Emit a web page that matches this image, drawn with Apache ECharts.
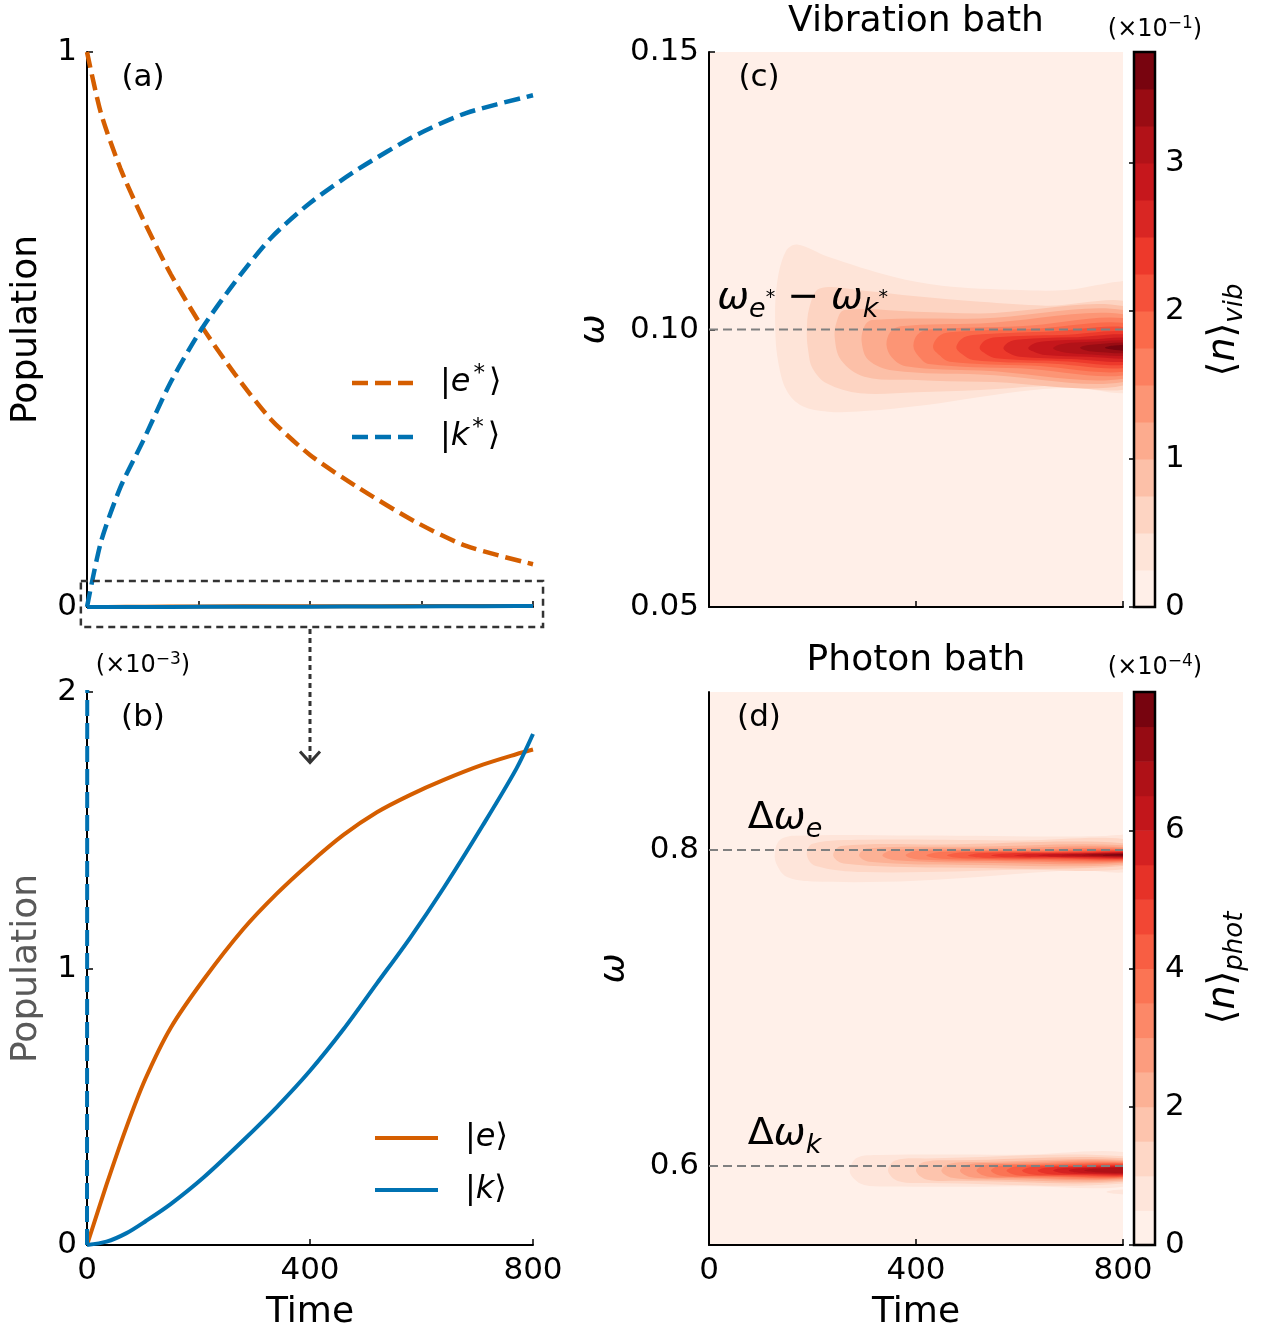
<!DOCTYPE html>
<html><head><meta charset="utf-8">
<script src="https://cdn.jsdelivr.net/npm/echarts@6/dist/echarts.min.js"></script>
<style>html,body{margin:0;padding:0;background:#fff}#c{width:1262px;height:1333px}</style>
</head><body><div id="c"></div>
<script>
// ---------------- data ----------------
const timeStar = [0, 25, 60, 100, 150, 205, 265, 330, 400, 485, 590, 680, 800];
const eStar    = [1.0, 0.89, 0.79, 0.70, 0.60, 0.507, 0.42, 0.338, 0.274, 0.216, 0.153, 0.11, 0.077];
const kStar    = [0.0, 0.117, 0.216, 0.298, 0.405, 0.50, 0.585, 0.665, 0.728, 0.788, 0.85, 0.89, 0.922];

const timeSmall = [0, 35, 70, 105, 150, 210, 280, 340, 400, 460, 520, 580, 640, 710, 770, 800];
const eSmall    = [0, 0.218, 0.422, 0.602, 0.785, 0.962, 1.142, 1.27, 1.382, 1.483, 1.565, 1.628, 1.682, 1.737, 1.775, 1.792]; // x1e-3
const kSmall    = [0, 0.012, 0.042, 0.086, 0.148, 0.246, 0.378, 0.498, 0.63, 0.78, 0.946, 1.112, 1.292, 1.518, 1.722, 1.848]; // x1e-3

const vibLevels  = [0, 0.25, 0.5, 0.75, 1, 1.25, 1.5, 1.75, 2, 2.25, 2.5, 2.75, 3, 3.25, 3.5, 3.75]; // x1e-1
const photLevels = [0, 0.5, 1, 1.5, 2, 2.5, 3, 3.5, 4, 4.5, 5, 5.5, 6, 6.5, 7, 7.5, 8];          // x1e-4
const vibTicks = [0, 1, 2, 3];
const photTicks = [0, 2, 4, 6];
const refVib = [0.1];
const refPhot = [0.8, 0.6];

// contour regions: [band index, [[time, omega], ...]]
const vibContours = [
 [1, [[128,0.1000],[131,0.1080],[148,0.1140],[170,0.1153],[230,0.1131],[356,0.1095],[450,0.1079],[600,0.1071],[690,0.1071],[750,0.1080],[790,0.1086],[830,0.1086],[830,0.0897],[700,0.0895],[627,0.0891],[520,0.0878],[420,0.0864],[300,0.0853],[230,0.0852],[180,0.0862],[150,0.0890],[134,0.0940]]],
 [2, [[189,0.0995],[194,0.1040],[214,0.1074],[300,0.1070],[400,0.1060],[524,0.1050],[650,0.1043],[830,0.1041],[830,0.0903],[650,0.0898],[524,0.0891],[400,0.0887],[292,0.0885],[227,0.0903],[200,0.0930],[192,0.0960]]],
 [3, [[243,0.0985],[247,0.1015],[262,0.1035],[400,0.1032],[524,0.1029],[830,0.1034],[830,0.0908],[524,0.0906],[400,0.0909],[300,0.0915],[255,0.0945]]],
 [4, [[295,0.0978],[300,0.1005],[315,0.1017],[524,0.1020],[830,0.1028],[830,0.0913],[524,0.0919],[356,0.0926],[308,0.0945]]],
 [5, [[343,0.0972],[350,0.0995],[370,0.1006],[524,0.1011],[830,0.1021],[830,0.0918],[524,0.0926],[380,0.0934],[353,0.0950]]],
 [6, [[395,0.0970],[403,0.0991],[425,0.1000],[600,0.1006],[830,0.1014],[830,0.0924],[600,0.0930],[425,0.0938],[405,0.0952]]],
 [7, [[433,0.0968],[443,0.0987],[465,0.0995],[620,0.1001],[830,0.1006],[830,0.0930],[620,0.0935],[465,0.0942],[445,0.0954]]],
 [8, [[478,0.0967],[488,0.0983],[510,0.0990],[650,0.0996],[830,0.0999],[830,0.0936],[650,0.0939],[510,0.0945],[490,0.0955]]],
 [9, [[523,0.0966],[533,0.0980],[555,0.0986],[680,0.0990],[830,0.0992],[830,0.0941],[680,0.0943],[555,0.0948],[535,0.0956]]],
 [10,[[569,0.0966],[579,0.0977],[600,0.0982],[700,0.0986],[830,0.0987],[830,0.0946],[700,0.0947],[600,0.0951],[580,0.0957]]],
 [11,[[617,0.0966],[628,0.0975],[650,0.0979],[730,0.0982],[830,0.0982],[830,0.0951],[730,0.0951],[650,0.0954],[630,0.0959]]],
 [12,[[665,0.0966],[678,0.0973],[720,0.0977],[830,0.0978],[830,0.0955],[720,0.0956],[680,0.0960]]],
 [13,[[717,0.0967],[733,0.0972],[830,0.0975],[830,0.0959],[735,0.0961]]],
 [14,[[765,0.0967],[783,0.0971],[830,0.0972],[830,0.0962],[785,0.0963]]]
];
const photContours = [
 // upper line (near Δω_e)
 [1, [[127,0.7970],[136,0.8060],[165,0.8090],[400,0.8092],[700,0.8085],[760,0.8088],[790,0.8095],[830,0.8095],[830,0.7880],[700,0.7872],[400,0.7805],[200,0.7800],[150,0.7830],[132,0.7900]]],
 [2, [[189,0.7970],[200,0.8040],[300,0.8065],[600,0.8060],[830,0.8055],[830,0.7895],[600,0.7875],[300,0.7860],[205,0.7900]]],
 [3, [[240,0.7965],[255,0.8025],[450,0.8035],[830,0.8035],[830,0.7908],[450,0.7890],[260,0.7915]]],
 [4, [[290,0.7965],[305,0.8010],[500,0.8020],[830,0.8022],[830,0.7918],[500,0.7905],[310,0.7925]]],
 [5, [[335,0.7965],[355,0.8000],[550,0.8010],[830,0.8012],[830,0.7926],[550,0.7918],[360,0.7935]]],
 [6, [[380,0.7965],[400,0.7993],[600,0.8000],[830,0.8005],[830,0.7932],[600,0.7928],[405,0.7940]]],
 [7, [[420,0.7965],[445,0.7988],[620,0.7994],[830,0.7999],[830,0.7937],[620,0.7935],[450,0.7945]]],
 [8, [[460,0.7965],[485,0.7984],[650,0.7989],[830,0.7994],[830,0.7942],[650,0.7941],[490,0.7948]]],
 [9, [[500,0.7965],[525,0.7980],[680,0.7985],[830,0.7990],[830,0.7946],[680,0.7946],[530,0.7951]]],
 [10,[[545,0.7965],[570,0.7977],[700,0.7982],[830,0.7987],[830,0.7949],[700,0.7950],[575,0.7954]]],
 [11,[[590,0.7965],[615,0.7975],[720,0.7980],[830,0.7984],[830,0.7952],[720,0.7954],[620,0.7957]]],
 [12,[[635,0.7965],[660,0.7973],[740,0.7978],[830,0.7981],[830,0.7955],[740,0.7957],[665,0.7959]]],
 [13,[[680,0.7966],[705,0.7973],[830,0.7979],[830,0.7958],[710,0.7961]]],
 [14,[[720,0.7966],[745,0.7973],[830,0.7977],[830,0.7961],[750,0.7963]]],
 [15,[[760,0.7967],[780,0.7972],[830,0.7975],[830,0.7964],[785,0.7965]]],
 // lower line (near Δω_k)
 [1, [[272,0.5970],[285,0.6050],[330,0.6069],[600,0.6071],[830,0.6072],[830,0.5888],[600,0.5872],[350,0.5870],[300,0.5880],[280,0.5920]]],
 [2, [[346,0.5970],[360,0.6035],[420,0.6048],[830,0.6052],[830,0.5900],[420,0.5893],[365,0.5905]]],
 [3, [[400,0.5970],[415,0.6025],[480,0.6036],[830,0.6040],[830,0.5910],[480,0.5906],[420,0.5915]]],
 [4, [[449,0.5970],[465,0.6015],[530,0.6026],[830,0.6030],[830,0.5918],[530,0.5915],[470,0.5925]]],
 [5, [[485,0.5970],[500,0.6010],[560,0.6019],[830,0.6023],[830,0.5925],[560,0.5922],[505,0.5930]]],
 [6, [[517,0.5970],[532,0.6005],[590,0.6013],[830,0.6017],[830,0.5930],[590,0.5928],[537,0.5934]]],
 [7, [[545,0.5970],[560,0.6000],[620,0.6008],[830,0.6012],[830,0.5935],[620,0.5933],[565,0.5938]]],
 [8, [[575,0.5970],[590,0.5996],[650,0.6004],[830,0.6008],[830,0.5939],[650,0.5937],[595,0.5942]]],
 [9, [[605,0.5970],[620,0.5992],[680,0.6000],[830,0.6004],[830,0.5943],[680,0.5941],[625,0.5946]]],
 [10,[[635,0.5970],[650,0.5989],[710,0.5996],[830,0.6000],[830,0.5947],[710,0.5945],[655,0.5950]]],
 [11,[[665,0.5971],[680,0.5986],[740,0.5992],[830,0.5996],[830,0.5951],[740,0.5949],[685,0.5954]]],
 [12,[[695,0.5971],[712,0.5984],[830,0.5992],[830,0.5955],[715,0.5957]]],
 [13,[[725,0.5971],[745,0.5982],[830,0.5988],[830,0.5959],[748,0.5961]]],
 // small patch below the lower line
 [1, [[768,0.5836],[785,0.5848],[830,0.5851],[830,0.5821],[785,0.5824]]]
];

// ---------------- style helpers ----------------
const FONT = 'DejaVu Sans';
const ORANGE = '#d55e00', BLUE = '#0072b2';
const DASH = [16, 7];
const REDS = [[255,245,240],[254,224,210],[252,187,161],[252,146,114],[251,106,74],[239,59,44],[203,24,29],[165,15,21],[103,0,13]];
function reds(x) {
  const p = Math.max(0, Math.min(1, x)) * 8;
  const i = Math.min(7, Math.floor(p)), f = p - i;
  const a = REDS[i], b = REDS[i + 1];
  return 'rgb(' + [0,1,2].map(j => Math.round(a[j] + (b[j] - a[j]) * f)).join(',') + ')';
}
const nVib = vibLevels.length - 1, nPhot = photLevels.length - 1;
const vibColor = i => reds((i + 0.5) / nVib);
const photColor = i => reds((i + 0.5) / nPhot);

const G = {
  a: {left: 87, top: 52, width: 446, height: 555},
  b: {left: 87, top: 692, width: 446, height: 553},
  c: {left: 709, top: 52, width: 414, height: 555},
  d: {left: 709, top: 692, width: 414, height: 553},
  cbc: {left: 1134, top: 52, width: 21, height: 555},
  cbd: {left: 1134, top: 692, width: 21, height: 553}
};

const TICK = 31, NAME = 36;
function axisBase(extra) {
  return Object.assign({
    type: 'value',
    axisLine: {show: true, onZero: false, lineStyle: {color: '#000', width: 2}},
    axisTick: {show: true, inside: true, length: 6, lineStyle: {color: '#000', width: 1.5}},
    axisLabel: {color: '#000', fontSize: TICK, fontFamily: FONT, margin: 10},
    splitLine: {show: false},
    nameTextStyle: {color: '#000', fontSize: NAME, fontFamily: FONT}
  }, extra);
}

const pairs = (xs, ys, s) => xs.map((t, i) => [t, ys[i] * (s || 1)]);

function contourSeries(gi, contours, colorFn) {
  return {
    type: 'custom', xAxisIndex: gi, yAxisIndex: gi, clip: true, silent: true, z: 2,
    data: contours.map((c, i) => [c[1][0][0], c[1][0][1], i]),
    renderItem: function (params, api) {
      const c = contours[params.dataIndex];
      return {
        type: 'polygon',
        shape: {points: c[1].map(p => api.coord(p)), smooth: 0.35},
        style: {fill: colorFn(c[0]), stroke: null}
      };
    }
  };
}
function colorbarSeries(gi, levels, colorFn) {
  return {
    type: 'custom', xAxisIndex: gi, yAxisIndex: gi, clip: true, silent: true, z: 2,
    data: levels.slice(0, -1).map((lo, i) => [lo, levels[i + 1], i]),
    renderItem: function (params, api) {
      const lo = api.value(0), hi = api.value(1), i = api.value(2);
      const p0 = api.coord([0, hi]), p1 = api.coord([1, lo]);
      return {type: 'rect', shape: {x: p0[0], y: p0[1], width: p1[0] - p0[0], height: p1[1] - p0[1] + 0.5},
              style: {fill: colorFn(i), stroke: null}};
    }
  };
}
function refLine(gi, w) {
  return {
    type: 'line', xAxisIndex: gi, yAxisIndex: gi, data: [[0, w], [800, w]], symbol: 'none', silent: true, z: 5,
    lineStyle: {color: '#808080', width: 2, type: [9, 5]}
  };
}

const option = {
  animation: false,
  backgroundColor: '#fff',
  grid: [
    Object.assign({}, G.a), Object.assign({}, G.b),
    Object.assign({show: true, backgroundColor: vibColor(0), borderWidth: 0}, G.c),
    Object.assign({show: true, backgroundColor: photColor(0), borderWidth: 0}, G.d),
    Object.assign({}, G.cbc), Object.assign({}, G.cbd)
  ],
  xAxis: [
    axisBase({gridIndex: 0, min: 0, max: 800, interval: 200, axisLabel: {show: false}}),
    axisBase({gridIndex: 1, min: 0, max: 800, interval: 400, name: 'Time', nameLocation: 'middle', nameGap: 50}),
    axisBase({gridIndex: 2, min: 0, max: 800, interval: 400, axisLabel: {show: false}}),
    axisBase({gridIndex: 3, min: 0, max: 800, interval: 400, name: 'Time', nameLocation: 'middle', nameGap: 50}),
    {gridIndex: 4, type: 'value', min: 0, max: 1, show: false},
    {gridIndex: 5, type: 'value', min: 0, max: 1, show: false}
  ],
  yAxis: [
    axisBase({gridIndex: 0, min: 0, max: 1, interval: 1, name: 'Population', nameLocation: 'middle', nameGap: 42, nameRotate: 90}),
    axisBase({gridIndex: 1, min: 0, max: 2, interval: 1, name: 'Population', nameLocation: 'middle', nameGap: 42, nameRotate: 90,
              nameTextStyle: {color: '#595959', fontSize: NAME, fontFamily: FONT}}),
    axisBase({gridIndex: 2, min: 0.05, max: 0.15, interval: 0.05, name: 'ω', nameLocation: 'middle', nameGap: 96, nameRotate: 90,
              nameTextStyle: {color: '#000', fontSize: NAME, fontFamily: FONT, fontStyle: 'italic'},
              axisLabel: {color: '#000', fontSize: TICK, fontFamily: FONT, margin: 10, formatter: v => v.toFixed(2)}}),
    axisBase({gridIndex: 3, min: 0.55, max: 0.9, name: 'ω', nameLocation: 'middle', nameGap: 76, nameRotate: 90,
              nameTextStyle: {color: '#000', fontSize: NAME, fontFamily: FONT, fontStyle: 'italic'},
              axisTick: {show: true, inside: true, length: 6, lineStyle: {color: '#000', width: 1.5}, customValues: refPhot},
              axisLabel: {color: '#000', fontSize: TICK, fontFamily: FONT, margin: 10, customValues: refPhot, formatter: v => v.toFixed(1)}}),
    axisBase({gridIndex: 4, position: 'right', min: 0, max: 3.75, axisLine: {show: false},
              axisTick: {show: true, inside: true, length: 5, lineStyle: {color: '#000', width: 1.5}, customValues: vibTicks},
              axisLabel: {color: '#000', fontSize: TICK, fontFamily: FONT, margin: 10, customValues: vibTicks}}),
    axisBase({gridIndex: 5, position: 'right', min: 0, max: 8, axisLine: {show: false},
              axisTick: {show: true, inside: true, length: 5, lineStyle: {color: '#000', width: 1.5}, customValues: photTicks},
              axisLabel: {color: '#000', fontSize: TICK, fontFamily: FONT, margin: 10, customValues: photTicks}})
  ],
  series: [
    {name: 'e*', type: 'line', xAxisIndex: 0, yAxisIndex: 0, data: pairs(timeStar, eStar), symbol: 'none', smooth: 0.25,
     lineStyle: {color: ORANGE, width: 4.5, type: DASH}, z: 3},
    {name: 'k*', type: 'line', xAxisIndex: 0, yAxisIndex: 0, data: pairs(timeStar, kStar), symbol: 'none', smooth: 0.25,
     lineStyle: {color: BLUE, width: 4.5, type: DASH}, z: 3},
    {name: 'e_a', type: 'line', xAxisIndex: 0, yAxisIndex: 0, data: pairs(timeSmall, eSmall, 1e-3), symbol: 'none',
     lineStyle: {color: ORANGE, width: 4}, z: 3},
    {name: 'k_a', type: 'line', xAxisIndex: 0, yAxisIndex: 0, data: pairs(timeSmall, kSmall, 1e-3), symbol: 'none',
     lineStyle: {color: BLUE, width: 4}, z: 3},
    {name: 'e', type: 'line', xAxisIndex: 1, yAxisIndex: 1, data: pairs(timeSmall, eSmall), symbol: 'none', smooth: 0.3,
     lineStyle: {color: ORANGE, width: 4}, z: 3},
    {name: 'k', type: 'line', xAxisIndex: 1, yAxisIndex: 1, data: pairs(timeSmall, kSmall), symbol: 'none', smooth: 0.3,
     lineStyle: {color: BLUE, width: 4}, z: 3},
    {name: 'k*_b', type: 'line', xAxisIndex: 1, yAxisIndex: 1, data: pairs(timeStar, kStar, 1000), symbol: 'none',
     lineStyle: {color: BLUE, width: 4, type: DASH}, z: 3},
    contourSeries(2, vibContours, vibColor),
    refLine(2, refVib[0]),
    contourSeries(3, photContours, photColor),
    refLine(3, refPhot[0]),
    refLine(3, refPhot[1]),
    colorbarSeries(4, vibLevels, vibColor),
    colorbarSeries(5, photLevels, photColor)
  ]
};

const chart = echarts.init(document.getElementById('c'), null, {renderer: 'canvas', width: 1262, height: 1333});
chart.setOption(option);

// ---------------- annotations ----------------
const px = (gi, v) => chart.convertToPixel({gridIndex: gi}, v);
function txt(x, y, text, size) {
  return {type: 'text', x: x, y: y, z: 100, silent: true,
    style: {text: text, fill: '#000', font: size + 'px "' + FONT + '"', align: 'center', verticalAlign: 'middle'}};
}
function rtxt(x, y, text, rich, align, vAlign, rot) {
  return {type: 'text', x: x, y: y, z: 100, silent: true, rotation: rot || 0,
    style: {text: text, rich: rich, align: align, verticalAlign: vAlign}};
}
const mathRich = {
  w: {fontFamily: FONT, fontSize: 38, fontStyle: 'italic', lineHeight: 50, color: '#000'},
  n: {fontFamily: FONT, fontSize: 38, lineHeight: 50, color: '#000'},
  sb: {fontFamily: FONT, fontSize: 27, fontStyle: 'italic', lineHeight: 27, verticalAlign: 'bottom', color: '#000'},
  ss: {fontFamily: FONT, fontSize: 19, lineHeight: 44, verticalAlign: 'middle', color: '#000'},
  gap: {width: 12}
};
const barRich = {
  w: {fontFamily: FONT, fontSize: 38, fontStyle: 'italic', lineHeight: 48, color: '#000'},
  n: {fontFamily: FONT, fontSize: 38, lineHeight: 48, color: '#000'},
  sb: {fontFamily: FONT, fontSize: 26, fontStyle: 'italic', lineHeight: 26, verticalAlign: 'bottom', color: '#000'}
};
const legendRich = {
  n: {fontFamily: FONT, fontSize: 32, lineHeight: 40, color: '#000'},
  i: {fontFamily: FONT, fontSize: 32, lineHeight: 40, fontStyle: 'italic', color: '#000'},
  s: {fontFamily: FONT, fontSize: 23, lineHeight: 26, verticalAlign: 'top', color: '#000', padding: [0, 4, 0, 3]}
};
const sciRich = {
  n: {fontFamily: FONT, fontSize: 24, lineHeight: 30, color: '#000'},
  s: {fontFamily: FONT, fontSize: 17, lineHeight: 20, verticalAlign: 'top', color: '#000'}
};
const legendItems = [
  {x1: 352, x2: 413, y: 383, tx: 440, color: ORANGE, dash: DASH, text: '{n||}{i|e}{s|*}{n|⟩}'},
  {x1: 352, x2: 413, y: 437, tx: 440, color: BLUE, dash: DASH, text: '{n||}{i|k}{s|*}{n|⟩}'},
  {x1: 375, x2: 438, y: 1138, tx: 465, color: ORANGE, dash: null, text: '{n||}{i|e}{n|⟩}'},
  {x1: 375, x2: 438, y: 1190, tx: 465, color: BLUE, dash: null, text: '{n||}{i|k}{n|⟩}'}
];

const boxTL = px(0, [-11, 0.047]), boxBR = px(0, [818, -0.036]);
const arrowX = px(0, [400, 0])[0];
const arrowEnd = px(1, [400, 1.745])[1];
const annC = px(2, [16, 0.1]);
const annE = px(3, [75, 0.8]);
const annK = px(3, [75, 0.6]);

const graphic = [
  txt(143, 78, '(a)', 31), txt(143, 718, '(b)', 31), txt(759, 78, '(c)', 31), txt(759, 718, '(d)', 31),
  txt(916, 22, 'Vibration bath', NAME), txt(916, 661, 'Photon bath', NAME),
  rtxt(143, 666, '{n|(×10}{s|−3}{n|)}', sciRich, 'center', 'middle'),
  rtxt(1155, 30, '{n|(×10}{s|−1}{n|)}', sciRich, 'center', 'middle'),
  rtxt(1155, 668, '{n|(×10}{s|−4}{n|)}', sciRich, 'center', 'middle'),
  rtxt(1224, 330, '{n|⟨}{w|n}{n|⟩}{sb|vib}', barRich, 'center', 'middle', Math.PI / 2),
  rtxt(1224, 968, '{n|⟨}{w|n}{n|⟩}{sb|phot}', barRich, 'center', 'middle', Math.PI / 2),
  rtxt(annC[0], annC[1] - 6, '{w|ω}{sb|e}{ss|*}{gap|}{n|−}{gap|}{w|ω}{sb|k}{ss|*}', mathRich, 'left', 'bottom'),
  rtxt(annE[0], annE[1] - 7, '{n|Δ}{w|ω}{sb|e}', mathRich, 'left', 'bottom'),
  rtxt(annK[0], annK[1] - 7, '{n|Δ}{w|ω}{sb|k}', mathRich, 'left', 'bottom'),
  // zoom box and arrow
  {type: 'rect', z: 100, silent: true, shape: {x: boxTL[0], y: boxTL[1], width: boxBR[0] - boxTL[0], height: boxBR[1] - boxTL[1]},
   style: {fill: null, stroke: '#333', lineWidth: 2.5, lineDash: [7, 5]}},
  {type: 'line', z: 100, silent: true, shape: {x1: arrowX, y1: boxBR[1] + 2, x2: arrowX, y2: arrowEnd - 2},
   style: {stroke: '#333', lineWidth: 3, lineDash: [5, 4]}},
  {type: 'polyline', z: 100, silent: true, shape: {points: [[arrowX - 10, arrowEnd - 11], [arrowX, arrowEnd], [arrowX + 10, arrowEnd - 11]]},
   style: {fill: null, stroke: '#333', lineWidth: 3}},
  // colorbar frames
  {type: 'rect', z: 100, silent: true, shape: {x: G.cbc.left, y: G.cbc.top, width: G.cbc.width, height: G.cbc.height},
   style: {fill: null, stroke: '#000', lineWidth: 2.5}},
  {type: 'rect', z: 100, silent: true, shape: {x: G.cbd.left, y: G.cbd.top, width: G.cbd.width, height: G.cbd.height},
   style: {fill: null, stroke: '#000', lineWidth: 2.5}}
];
legendItems.forEach(it => {
  graphic.push({type: 'line', z: 100, silent: true, shape: {x1: it.x1, y1: it.y, x2: it.x2, y2: it.y},
    style: {stroke: it.color, lineWidth: it.dash ? 4.5 : 4, lineDash: it.dash}});
  graphic.push(rtxt(it.tx, it.y, it.text, legendRich, 'left', 'middle'));
});
chart.setOption({graphic: graphic});
</script>
</body></html>
